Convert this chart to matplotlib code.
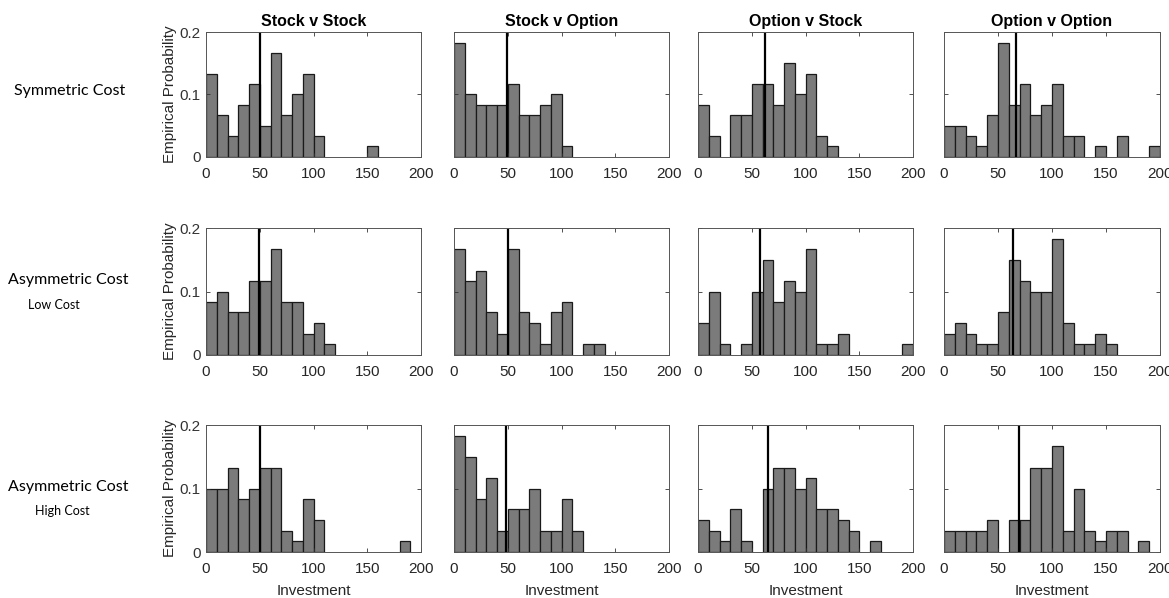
import numpy as np
import matplotlib
matplotlib.use("Agg")
import matplotlib.pyplot as plt

# histogram bins of width 10 over 0..200, empirical probability per bin
BIN_EDGES = np.arange(0, 201, 10)

COLUMNS = ["Stock v Stock", "Stock v Option", "Option v Stock", "Option v Option"]

ss_sym = [0.133, 0.067, 0.033, 0.083, 0.117, 0.05, 0.167, 0.067, 0.1, 0.133,
          0.033, 0, 0, 0, 0, 0.017, 0, 0, 0, 0]
so_sym = [0.183, 0.1, 0.083, 0.083, 0.083, 0.117, 0.067, 0.067, 0.083, 0.1,
          0.017, 0, 0, 0, 0, 0, 0, 0, 0, 0]
os_sym = [0.083, 0.033, 0, 0.067, 0.067, 0.117, 0.117, 0.083, 0.15, 0.1,
          0.133, 0.033, 0.017, 0, 0, 0, 0, 0, 0, 0]
oo_sym = [0.05, 0.05, 0.033, 0.017, 0.067, 0.183, 0.083, 0.117, 0.067, 0.083,
          0.117, 0.033, 0.033, 0, 0.017, 0, 0.033, 0, 0, 0.017]

ss_low = [0.083, 0.1, 0.067, 0.067, 0.117, 0.117, 0.167, 0.083, 0.083, 0.033,
          0.05, 0.017, 0, 0, 0, 0, 0, 0, 0, 0]
so_low = [0.167, 0.117, 0.133, 0.067, 0.033, 0.167, 0.067, 0.05, 0.017, 0.067,
          0.083, 0, 0.017, 0.017, 0, 0, 0, 0, 0, 0]
os_low = [0.05, 0.1, 0.017, 0, 0.017, 0.1, 0.15, 0.083, 0.117, 0.1,
          0.167, 0.017, 0.017, 0.033, 0, 0, 0, 0, 0, 0.017]
oo_low = [0.033, 0.05, 0.033, 0.017, 0.017, 0.067, 0.15, 0.117, 0.1, 0.1,
          0.183, 0.05, 0.017, 0.017, 0.033, 0.017, 0, 0, 0, 0]

ss_high = [0.1, 0.1, 0.133, 0.083, 0.1, 0.133, 0.133, 0.033, 0.017, 0.083,
           0.05, 0, 0, 0, 0, 0, 0, 0, 0.017, 0]
so_high = [0.183, 0.15, 0.083, 0.117, 0.033, 0.067, 0.067, 0.1, 0.033, 0.033,
           0.083, 0.033, 0, 0, 0, 0, 0, 0, 0, 0]
os_high = [0.05, 0.033, 0.017, 0.067, 0.017, 0, 0.1, 0.133, 0.133, 0.1,
           0.117, 0.067, 0.067, 0.05, 0.033, 0, 0.017, 0, 0, 0]
oo_high = [0.033, 0.033, 0.033, 0.033, 0.05, 0, 0.05, 0.05, 0.133, 0.133,
           0.167, 0.033, 0.1, 0.033, 0.017, 0.033, 0.033, 0, 0.017, 0]

# mean investment (vertical line) per panel
means_sym = [50, 49.5, 62, 67]
means_low = [49, 50, 58, 63.5]
means_high = [50, 48, 65.5, 69.5]

ROWS = [
    ([ss_sym, so_sym, os_sym, oo_sym], means_sym),
    ([ss_low, so_low, os_low, oo_low], means_low),
    ([ss_high, so_high, os_high, oo_high], means_high),
]

W, H = 1169, 598
COL_X = [(206, 421), (454, 669), (698, 913), (944, 1160)]
ROW_Y = [(32, 157), (228, 355), (425, 552)]

fig = plt.figure(figsize=(W / 100, H / 100), dpi=100)
plt.rcParams["font.family"] = ["Liberation Sans", "DejaVu Sans"]

for r, (series, means) in enumerate(ROWS):
    y0, y1 = ROW_Y[r]
    for c in range(4):
        x0, x1 = COL_X[c]
        ax = fig.add_axes([x0 / W, 1 - y1 / H, (x1 - x0) / W, (y1 - y0) / H])
        probs = np.array(series[c], dtype=float)
        keep = probs > 0
        ax.bar(BIN_EDGES[:-1][keep], probs[keep], width=10, align="edge",
               color="#7b7b7b", edgecolor="#1a1a1a", linewidth=0.9)
        ax.axvline(means[c], color="black", linewidth=1.6)
        ax.set_xlim(0, 200)
        ax.set_ylim(0, 0.2)
        ax.set_xticks([0, 50, 100, 150, 200])
        ax.set_yticks([0, 0.1, 0.2])
        ax.tick_params(direction="in", top=True, right=True, length=3,
                       width=0.6, labelsize=11, colors="#333333", pad=4)
        ax.tick_params(axis="x", labelcolor="#262626", pad=7)
        for s in ax.spines.values():
            s.set_linewidth(0.7)
            s.set_color("#555555")
        if c == 0:
            ax.set_yticklabels(["0", "0.1", "0.2"])
            ax.set_ylabel("Empirical Probability", fontsize=11, color="#262626",
                          labelpad=2)
        else:
            ax.set_yticklabels([])
        if r == 0:
            ax.set_title(COLUMNS[c], fontsize=11.5, fontweight="bold", pad=4)
        if r == 2:
            ax.set_xlabel("Investment", fontsize=11, color="#262626", labelpad=6)

row_font = ["Lato", "DejaVu Sans"]
fig.text(70 / W, 1 - 91 / H, "Symmetric Cost", ha="center", va="center",
         fontsize=11.5, family=row_font)
fig.text(68 / W, 1 - 280 / H, "Asymmetric Cost", ha="center", va="center",
         fontsize=11.5, family=row_font)
fig.text(54 / W, 1 - 305 / H, "Low Cost", ha="center", va="center",
         fontsize=9, family=row_font)
fig.text(68 / W, 1 - 487 / H, "Asymmetric Cost", ha="center", va="center",
         fontsize=11.5, family=row_font)
fig.text(62 / W, 1 - 511 / H, "High Cost", ha="center", va="center",
         fontsize=9, family=row_font)

fig.savefig("out.png", dpi=100)
